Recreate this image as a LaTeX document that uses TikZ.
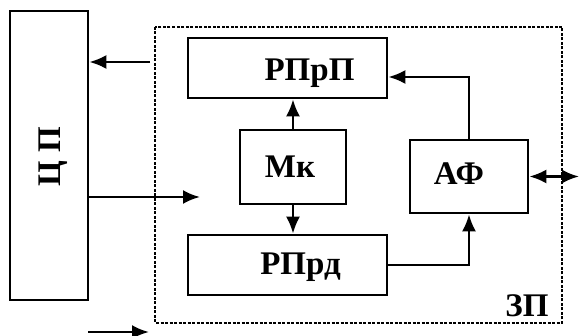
\documentclass[tikz,border=0pt]{standalone}
\usepackage{fontspec}
\setmainfont{Liberation Serif}
\usetikzlibrary{arrows.meta}

\begin{document}
\begin{tikzpicture}[x=1pt,y=-1pt,
    box/.style={draw, line width=2.6pt, inner sep=0pt},
    txt/.style={font=\fontsize{33}{35}\selectfont\bfseries},
    arr/.style={line width=2.6pt, -{Latex[length=17pt,width=14pt]}}]
        \useasboundingbox (0,0) rectangle (579,336);
        \draw[line width=1.2pt, dash pattern=on 3pt off 1.5pt] (155,27) rectangle (562,323);
        \node[box, minimum width=78pt, minimum height=289pt] (cp) at (49,155.5) {};
        \node[txt, rotate=90] at (53,157) {Ц П};
        \node[box, minimum width=199pt, minimum height=60pt,
              label={[txt, xshift=22pt, yshift=-5pt]center:РПрП}] (rprp) at (287.5,68) {};
        \node[box, minimum width=106pt, minimum height=74pt,
              label={[txt, xshift=-3pt]center:Мк}] (mk) at (293,167) {};
        \node[box, minimum width=199pt, minimum height=60pt,
              label={[txt, xshift=13pt, yshift=-2pt]center:РПрд}] (rprd) at (287.5,265) {};
        \node[box, minimum width=118pt, minimum height=73pt,
              label={[txt, xshift=-10pt, yshift=3pt]center:АФ}] (af) at (469,176.5) {};
        \node[txt, anchor=center] (zp) at (527,306) {ЗП};
        \coordinate (in1) at (150,62);
        \coordinate (out1) at (200,197);
        \coordinate (ext) at (579,176.5);
        \coordinate (b1) at (88,332);
        \coordinate (b2) at (149,332);
        % links
        \draw[arr] (in1) -- (cp.east |- in1);
        \draw[arr] (cp.east |- out1) -- (out1);
        \draw[arr] (mk.north) -- (mk.north |- rprp.south);
        \draw[arr] (mk.south) -- (mk.south |- rprd.north);
        \draw[arr] (af.north) |- ([yshift=-9pt]rprp.east);
        \draw[arr] (rprd.east) -| (af.south);
        \draw[arr, {Latex[length=17pt,width=14pt]}-{Latex[length=17pt,width=14pt]}] (af.east) -- (ext);
        \draw[arr] (b1) -- (b2);
\end{tikzpicture}
\end{document}
